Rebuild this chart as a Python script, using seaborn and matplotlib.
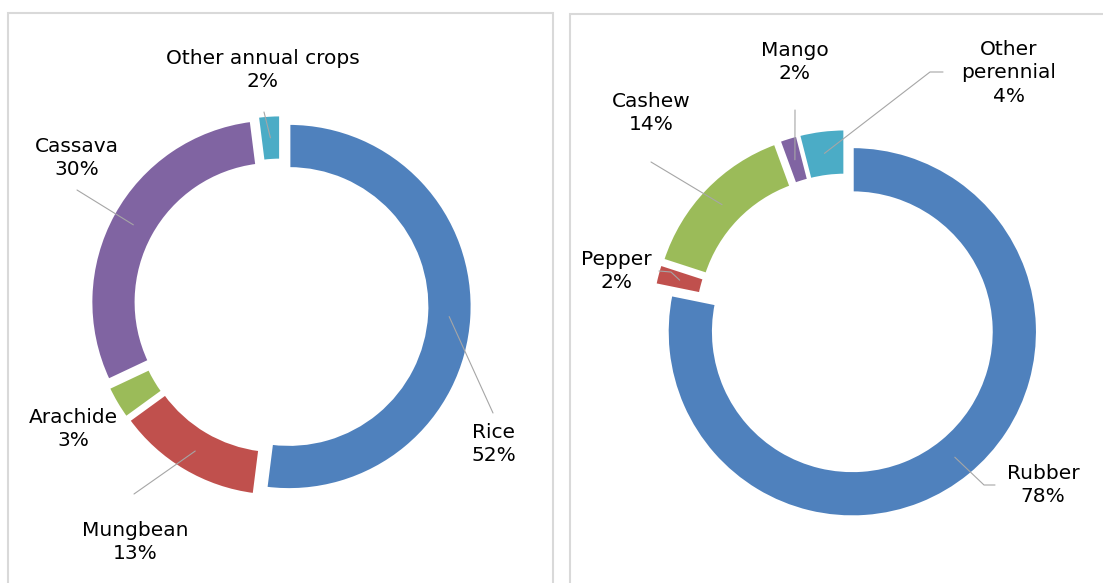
import numpy as np
import matplotlib.pyplot as plt
import seaborn as sns
from matplotlib.patches import Rectangle

# DATA
annual_crops = ["Rice", "Mungbean", "Arachide", "Cassava", "Other annual crops"]
annual_share = [52, 13, 3, 30, 2]

perennial_crops = ["Rubber", "Pepper", "Cashew", "Mango", "Other\nperennial"]
perennial_share = [78.2, 1.8, 14.4, 1.6, 4.0]

excel_colors = ["#4F81BD", "#C0504D", "#9BBB59", "#8064A2", "#4BACC6"]

W, H = 1103, 583

sns.set_theme(style="white")
plt.rcParams["font.family"] = ["DejaVu Sans"]

fig = plt.figure(figsize=(W / 100, H / 100), dpi=100)
ax = fig.add_axes([0, 0, 1, 1])


def draw_donut(values, names, center, radius, ring, gap, label_xy, leaders):
    # positions are given in picture pixels (y down), flip them for the axes
    cx, cy = center
    wedges, _ = ax.pie(values, colors=excel_colors, startangle=90, counterclock=False,
                       center=(cx, H - cy), radius=radius, explode=[gap] * len(values),
                       wedgeprops=dict(width=ring, edgecolor="white", linewidth=2))
    total = sum(values)
    for w, name, v, (lx, ly), pts in zip(wedges, names, values, label_xy, leaders):
        ax.text(lx, H - ly, f"{name}\n{v / total * 100:.0f}%", ha="center", va="center",
                fontsize=14.5, color="black", linespacing=1.3)
        if not pts:
            continue
        # leader line ends in the middle of the ring segment
        mid = np.deg2rad((w.theta1 + w.theta2) / 2)
        rm = w.r - ring / 2
        mx = w.center[0] + rm * np.cos(mid)
        my = w.center[1] + rm * np.sin(mid)
        xs = [p[0] for p in pts] + [mx]
        ys = [H - p[1] for p in pts] + [my]
        ax.plot(xs, ys, color="#A6A6A6", lw=0.8, zorder=3)


# ANNUAL CROPS
draw_donut(annual_share, annual_crops, center=(281, 306), radius=183, ring=45, gap=8,
           label_xy=[(494, 444), (135, 542), (73, 429), (77, 158), (263, 70)],
           leaders=[[(493, 413)], [(134, 494)], [], [(77, 190)], [(264, 112)]])

# PERENNIAL CROPS
draw_donut(perennial_share, perennial_crops, center=(846, 324), radius=185, ring=46, gap=10,
           label_xy=[(1043, 485), (616, 271), (651, 113), (795, 62), (1009, 73)],
           leaders=[[(995, 485), (984, 485)], [(659, 271), (671, 272)], [(651, 162)],
                    [(795, 110)], [(943, 72), (930, 72)]])

# panel frames
ax.add_patch(Rectangle((8, -20), 545, H - 13 + 20, fill=False, edgecolor="#D9D9D9", lw=1.5))
ax.add_patch(Rectangle((570, -20), 600, H - 14 + 20, fill=False, edgecolor="#D9D9D9", lw=1.5))

ax.set_xlim(0, W)
ax.set_ylim(0, H)
ax.set_aspect("equal")
ax.axis("off")

plt.savefig("out.png", dpi=100)
plt.close()
